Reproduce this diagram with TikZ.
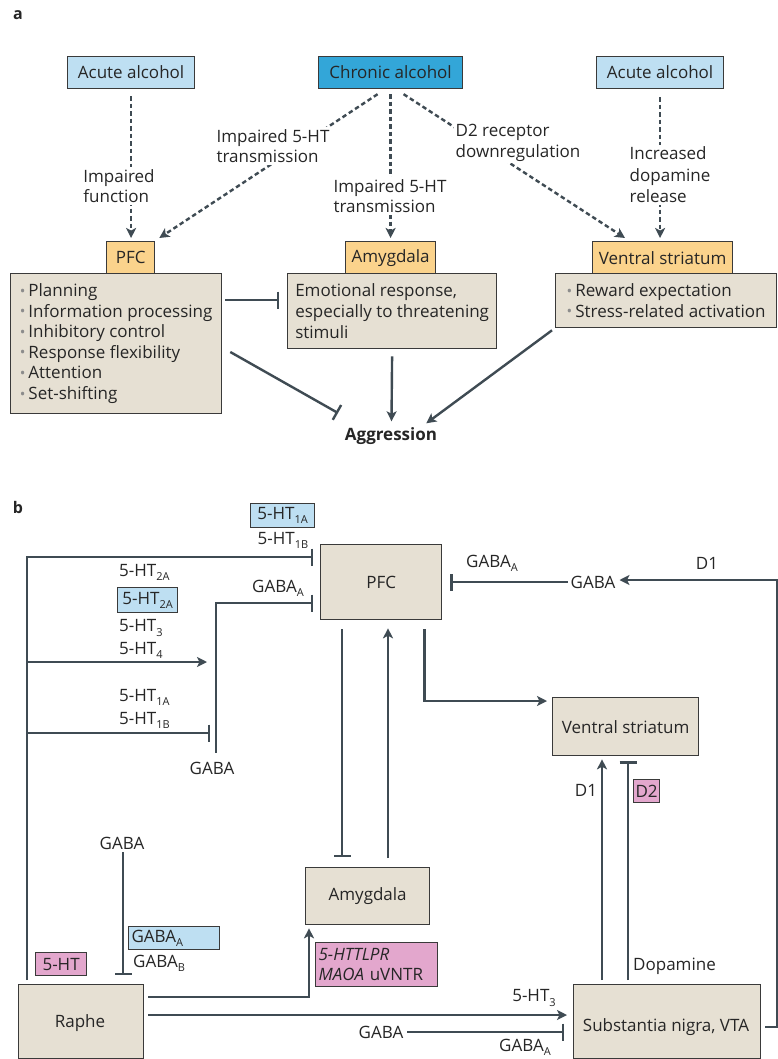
\documentclass[tikz,border=0pt]{standalone}
\usepackage{fontspec}
\setmainfont{Open Sans}
\usetikzlibrary{arrows.meta,calc}
\definecolor{lc}{HTML}{3F4B53}
\definecolor{bc}{HTML}{3A3A3A}
\definecolor{tc}{HTML}{262626}
\definecolor{beige}{HTML}{E6E0D3}
\definecolor{lblue}{HTML}{BEDFF2}
\definecolor{cblue}{HTML}{33A6D8}
\definecolor{lorange}{HTML}{FBD38C}
\definecolor{lpink}{HTML}{E3A7CD}
\definecolor{bulc}{HTML}{8C8C8C}
\newcommand{\fs}{\fontsize{17}{20.6}\selectfont}
\newcommand{\sbs}[1]{\raisebox{-0.45ex}{\fontsize{11}{11}\selectfont #1}}
\newcommand{\bl}{{\color{bulc}\fontsize{15}{15}\selectfont\raisebox{0.05ex}{•}}\hspace{3pt}}
\tikzset{
  txt/.style={font=\fs, text=tc, inner sep=0pt},
  bx/.style={draw=bc, line width=1.3pt, fill=beige, inner sep=0pt, anchor=north west, font=\fs, text=tc, align=left},
  tagbx/.style={bx, fill=lorange, align=center},
  smallbx/.style={draw=bc, line width=1.2pt, inner sep=0pt, anchor=north west, font=\fs, text=tc},
  lab/.style={font=\fs, text=tc, fill=white, inner sep=2pt, align=left},
  arr/.style={draw=lc, line width=2.4pt, -{Stealth[length=10pt,width=10pt,inset=2.5pt]}},
  inh/.style={draw=lc, line width=2.4pt, -{Bar[width=17pt]}},
  dsh/.style={draw=lc, line width=2.4pt, dash pattern=on 4.5pt off 3pt, -{Stealth[length=10pt,width=10pt,inset=2.5pt]}},
}
\begin{document}
\begin{tikzpicture}[x=1pt,y=-1pt]
\useasboundingbox[fill=white] (0,0) rectangle (778,1059);

%% ---------------- part a ----------------
\node[txt, font=\fontsize{16}{16}\selectfont\bfseries] (la) at (18,15) {a};

\node[smallbx, fill=lblue, minimum width=127pt, minimum height=32pt] (aa1) at (67,56) {Acute alcohol};
\node[smallbx, fill=cblue, minimum width=144pt, minimum height=32pt] (ch) at (318,56) {Chronic alcohol};
\node[smallbx, fill=lblue, minimum width=127pt, minimum height=32pt] (aa2) at (596,56) {Acute alcohol};

\node[bx, minimum width=211pt, minimum height=140pt] (pfcA) at (10,273)
  {\bl Planning\\\bl Information processing\\\bl Inhibitory control\\\bl Response flexibility\\\bl Attention\\\bl Set-shifting};
\node[bx, minimum width=209pt, minimum height=75pt] (amyA) at (287,273)
  {Emotional response,\\especially to threatening\\stimuli};
\node[bx, minimum width=221pt, minimum height=54pt] (vsA) at (555,273)
  {\bl Reward expectation\\\bl Stress-related activation};

\node[tagbx, minimum width=48pt, minimum height=32pt] (pfclab) at (106,241) {PFC};
\node[tagbx, minimum width=90pt, minimum height=32pt] (amylab) at (345,241) {Amygdala};
\node[tagbx, minimum width=140pt, minimum height=32pt] (vslab) at (592,241) {Ventral striatum};

\node[txt, font=\fs\bfseries] (agg) at (391,436) {Aggression};

% dashed influences
\draw[dsh, shorten <=7pt, shorten >=3pt] (aa1.south) -- (aa1.south |- pfclab.north);
\draw[dsh] ($(ch.south)+(-13,5)$) -- ($(pfclab.north east)+(4,-3)$);
\draw[dsh, shorten <=5pt, shorten >=3pt] (ch.south) -- (ch.south |- amylab.north);
\draw[dsh] ($(ch.south)+(13,5)$) -- ($(vslab.north west)+(33,-3)$);
\draw[dsh, shorten <=8pt, shorten >=3pt] (aa2.south) -- (aa2.south |- vslab.north);

\node[lab] (l1) at (119,186) {Impaired\\function};
\node[lab] (l2) at (273,146) {Impaired 5-HT\\transmission};
\node[lab] (l3) at (390,196) {Impaired 5-HT\\transmission};
\node[lab] (l4) at (518,143) {D2 receptor\\downregulation};
\node[lab, font=\fontsize{17}{21.5}\selectfont] (l5) at (670,175) {Increased\\dopamine\\release};

% solid connectors
\draw[inh, shorten >=8pt, shorten <=3pt] ($(pfcA.north east)+(0,27)$) -- ($(amyA.north west)+(0,27)$);
\draw[inh] ($(pfcA.north east)+(8,79)$) -- (338,413);
\draw[arr, shorten <=7pt] (amyA.south) -- ($(agg.north)+(0.5,-6)$);
\draw[arr] ($(vsA.south west)+(-3,2)$) -- ($(agg.north east)+(-11,-4)$);

%% ---------------- part b ----------------
\node[txt, font=\fontsize{16}{16}\selectfont\bfseries] (lb) at (18,507) {b};

\node[bx, align=center, minimum width=121pt, minimum height=75pt] (pfc) at (320,544) {PFC};
\node[bx, align=center, minimum width=146pt, minimum height=58pt] (vs) at (552,697) {Ventral striatum};
\node[bx, align=center, minimum width=124pt, minimum height=57pt] (amy) at (305,867) {Amygdala};
\node[bx, minimum width=125pt, minimum height=74pt] (raphe) at (18,984) {};
\node[txt] (raphet) at (80,1023) {Raphe};
\node[bx, minimum width=187pt, minimum height=74pt] (sn) at (573,984) {};
\node[txt] (snt) at (666,1027) {Substantia nigra, VTA};

% receptor labels, left column
\node[smallbx, fill=lblue, minimum width=64pt, minimum height=24pt] (r1a) at (250,503) {5-HT\sbs{1A}};
\node[txt] (r1b) at (283,540) {5-HT\sbs{1B}};
\node[txt, anchor=west] (r2a) at (119,572) {5-HT\sbs{2A}};
\node[smallbx, fill=lblue, minimum width=60pt, minimum height=25pt] (r2ab) at (117,587) {5-HT\sbs{2A}};
\node[txt, anchor=west] (r3) at (119,628) {5-HT\sbs{3}};
\node[txt, anchor=west] (r4) at (119,650) {5-HT\sbs{4}};
\node[txt, anchor=west] (r1a2) at (119,697) {5-HT\sbs{1A}};
\node[txt, anchor=west] (r1b2) at (119,720) {5-HT\sbs{1B}};
\node[txt] (gA1) at (278,588) {GABA\sbs{A}};
\node[txt] (gaba1) at (212,768) {GABA};

\node[txt] (gA2) at (492,563) {GABA\sbs{A}};
\node[txt] (gaba2) at (593,582) {GABA};
\node[txt] (d1a) at (707,563) {D1};
\node[txt] (d1b) at (586,790) {D1};
\node[smallbx, fill=lpink, minimum width=26pt, minimum height=23pt] (d2) at (633,779) {D2};
\node[txt, anchor=west] (dop) at (633,966) {Dopamine};
\node[txt] (r3b) at (534,998) {5-HT\sbs{3}};
\node[txt] (gaba3) at (381,1032) {GABA};
\node[txt] (gA3) at (525,1047) {GABA\sbs{A}};

\node[txt] (gaba4) at (122,843) {GABA};
\node[smallbx, fill=lblue, minimum height=23pt, text width=85pt, inner xsep=3pt, align=left] (gAbox) at (128,926) {GABA\sbs{A}};
\node[txt, anchor=west] (gB) at (133,963) {GABA\sbs{B}};
\node[smallbx, fill=lpink, minimum width=51pt, minimum height=23pt] (ht) at (35,952) {5-HT};
\node[smallbx, fill=lpink, minimum height=44pt, text width=116pt, inner xsep=3pt, align=left, font=\fontsize{17}{19.5}\selectfont] (gen) at (315,942) {\textit{5-HTTLPR}\\\textit{MAOA} uVNTR};

% connectors
\coordinate (j1) at (27,557);
\coordinate (j2) at (27,662);
\coordinate (j3) at (27,733);
\coordinate (e2) at (207,662);
\coordinate (e3) at (210,733);
\coordinate (g1) at (216,603);
\coordinate (rc) at (777,580);

\draw[inh, shorten >=7pt] ($(raphe.north west)+(9,-4)$) -- (j1) -- (pfc.west |- j1);
\draw[arr] (j2) -- (e2);
\draw[inh] (j3) -- (e3);
\draw[inh, shorten >=7pt] ($(gaba1.north)+(4,-9)$) |- (pfc.west |- g1);

\draw[inh, shorten >=8pt, shorten <=3pt] (gaba2.west) -- (pfc.east |- gaba2.west);
\draw[arr, shorten <=4pt, shorten >=4pt] (sn.east |- snt) -- (snt -| rc) -- (rc) -- (gaba2.east |- rc);

\draw[inh] ($(pfc.south west)+(22,9)$) -- ($(amy.north west)+(37,-10)$);
\draw[arr] ($(amy.north west)+(83,-9)$) -- ($(pfc.south west)+(68,8)$);
\draw[arr] ($(pfc.south east)+(-18,9)$) |- ($(vs.north west)+(-5,4)$);
\draw[arr] ($(sn.north west)+(29,-4)$) -- ($(vs.south west)+(50,3)$);
\draw[inh] ($(sn.north west)+(55,-4)$) -- ($(vs.south west)+(76,5)$);
\draw[arr] ($(raphe.north east)+(4,13)$) -| ($(amy.south west)+(4,3)$);
\draw[arr] ($(raphe.north east)+(4,31)$) -- ($(sn.north west)+(-6,31)$);
\draw[inh, shorten <=4pt] (gaba3.east) -- ($(sn.north west)+(-9,48)$);
\draw[inh] ($(gaba4.south)+(1,3)$) -- ($(raphe.north west)+(105,-9)$);
\end{tikzpicture}
\end{document}
